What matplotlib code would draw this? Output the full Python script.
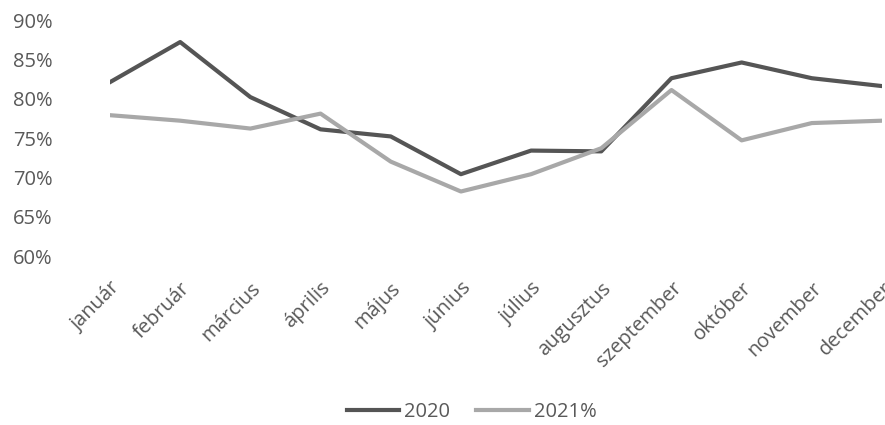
import matplotlib
matplotlib.use("Agg")
import matplotlib.pyplot as plt
from matplotlib.ticker import FuncFormatter

months = ["január", "február", "március", "április", "május", "június",
          "július", "augusztus", "szeptember", "október", "november", "december"]
s2020 = [82.1, 87.2, 80.2, 76.1, 75.2, 70.4, 73.4, 73.3, 82.6, 84.6, 82.6, 81.6]
s2021 = [77.9, 77.2, 76.2, 78.1, 72.0, 68.2, 70.4, 73.7, 81.1, 74.7, 76.9, 77.2]
yticks = [60, 65, 70, 75, 80, 85, 90]

plt.rcParams['font.family'] = ['Open Sans', 'DejaVu Sans']
FS = 14.5

fig = plt.figure(figsize=(8.85, 4.25), dpi=100)
ax = fig.add_axes([110/885, (425-256)/425, (882-110)/885, (256-20)/425])

x = list(range(len(months)))
l1, = ax.plot(x, s2020, color='#555555', lw=3.0, solid_joinstyle='round', label='2020')
l2, = ax.plot(x, s2021, color='#a8a8a8', lw=3.0, solid_joinstyle='round', label='2021%')

ax.set_xlim(0, len(months) - 1)
ax.set_ylim(60, 90)
ax.set_yticks(yticks)
ax.yaxis.set_major_formatter(FuncFormatter(lambda v, p: f"{v:.0f}%"))
ax.set_xticks(x)
ax.set_xticklabels(months, rotation=45, ha='right', rotation_mode='anchor')
ax.tick_params(axis='both', length=0, labelsize=FS, colors='#595959')
ax.tick_params(axis='y', pad=70)
for lab in ax.get_yticklabels():
    lab.set_horizontalalignment('left')
ax.tick_params(axis='x', pad=16)
for sp in ax.spines.values():
    sp.set_visible(False)

fig.legend(handles=[l1, l2], loc='center', bbox_to_anchor=(0.533, 13/425),
           ncol=2, frameon=False, fontsize=FS, handlelength=2.6, columnspacing=1.3,
           handletextpad=0.25, labelcolor='#595959')

fig.savefig("out.png", dpi=100)
